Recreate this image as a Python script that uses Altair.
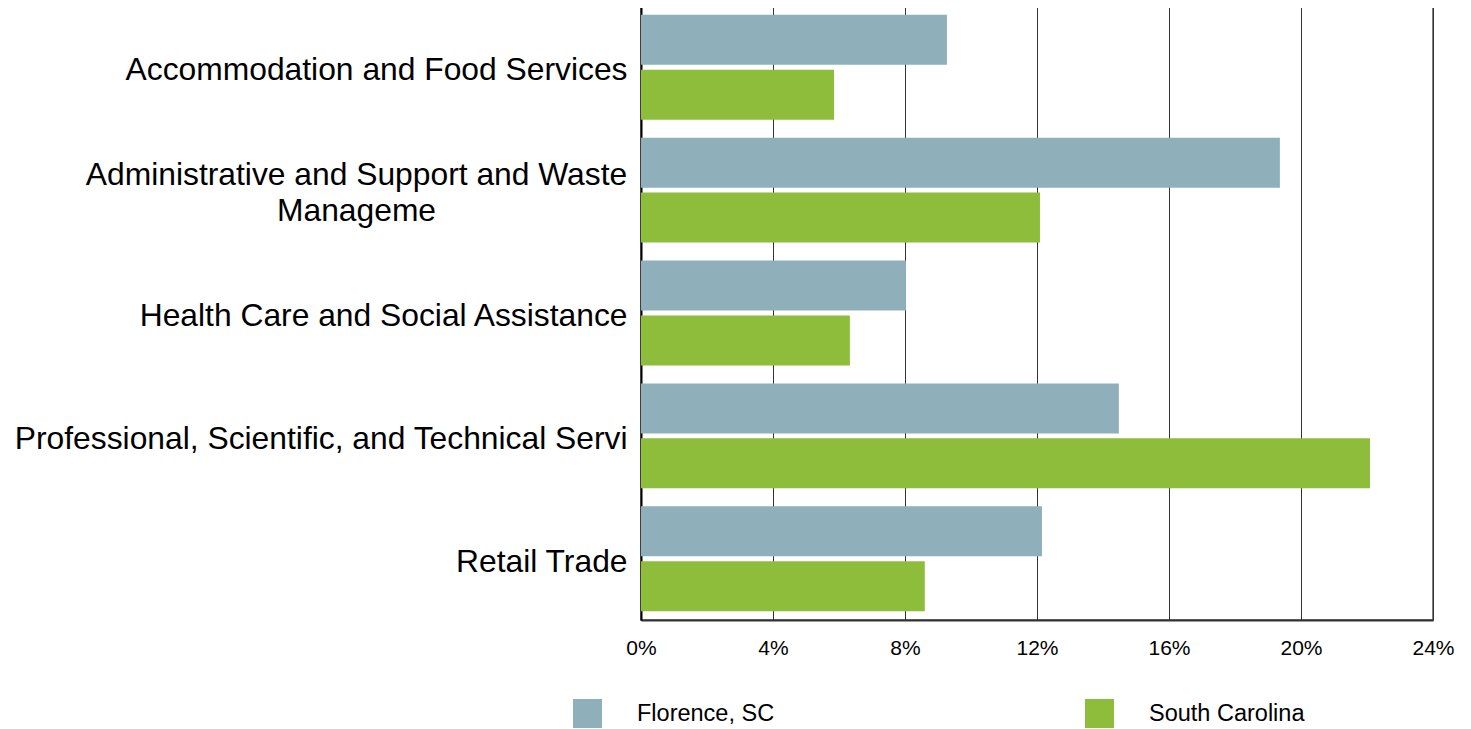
import altair as alt
import pandas as pd

categories = [
    "Accommodation and Food Services",
    "Administrative and Support and Waste Manageme",
    "Health Care and Social Assistance",
    "Professional, Scientific, and Technical Servi",
    "Retail Trade",
]
series_names = ["Florence, SC", "South Carolina"]
florence = [0.0927, 0.1936, 0.0803, 0.1448, 0.1215]
south_carolina = [0.0585, 0.1209, 0.0633, 0.2209, 0.0860]
x_ticks = [0, 0.04, 0.08, 0.12, 0.16, 0.20, 0.24]
colors = ["#8FAFBA", "#8EBD3C"]

rows = []
for c, f, s in zip(categories, florence, south_carolina):
    rows.append({"category": c, "series": series_names[0], "value": f})
    rows.append({"category": c, "series": series_names[1], "value": s})
df = pd.DataFrame(rows)

admin_test = "datum.value == 'Administrative and Support and Waste Manageme'"
label_expr = (
    admin_test + " ? "
    "['Administrative and Support and Waste', 'Manageme'] : datum.value"
)

FONT = "Liberation Sans, Arial, sans-serif"

chart = alt.Chart(df).mark_bar().encode(
    y=alt.Y(
        "category:N",
        sort=categories,
        scale=alt.Scale(paddingInner=0.146, paddingOuter=0.072),
        axis=alt.Axis(
            title=None,
            labelFontSize=31.8,
            labelColor="black",
            labelPadding={"condition": {"test": admin_test, "value": 285}, "value": 14},
            labelAlign={"condition": {"test": admin_test, "value": "center"}, "value": "right"},
            labelOffset={"condition": {"test": admin_test, "value": -15}, "value": 3},
            ticks=False,
            domainColor="black",
            domainWidth=2,
            labelExpr=label_expr,
            labelLineHeight=36,
            labelLimit=1000,
        ),
    ),
    yOffset=alt.YOffset(
        "series:N",
        sort=series_names,
        scale=alt.Scale(paddingInner=0.09, paddingOuter=0),
    ),
    x=alt.X(
        "value:Q",
        scale=alt.Scale(domain=[0, 0.24], nice=False),
        axis=alt.Axis(
            title=None,
            format=".0%",
            values=x_ticks,
            grid=True,
            gridColor="#333333",
            gridWidth=1,
            ticks=False,
            domainColor="#333333",
            domainWidth=2,
            labelFontSize=21,
            labelColor="black",
            labelPadding=17,
            labelFlush=False,
            labelOverlap=False,
        ),
    ),
    color=alt.Color(
        "series:N",
        scale=alt.Scale(domain=series_names, range=colors),
        legend=alt.Legend(
            orient="none",
            legendX=-68,
            legendY=693,
            direction="horizontal",
            title=None,
            symbolType="square",
            symbolSize=841,
            symbolStrokeWidth=0,
            symbolOpacity=1,
            labelFontSize=23.5,
            labelColor="black",
            labelOffset=35,
            columnPadding=310,
        ),
    ),
).properties(
    width=792,
    height=614,
    autosize=alt.AutoSizeParams(type="none"),
    padding={"left": 633, "top": -2, "right": 30, "bottom": 120},
).configure(
    font=FONT,
).configure_view(
    stroke="#555555",
    strokeWidth=1.5,
)

chart.save("out.html", embed_options={"renderer": "svg", "actions": False})
